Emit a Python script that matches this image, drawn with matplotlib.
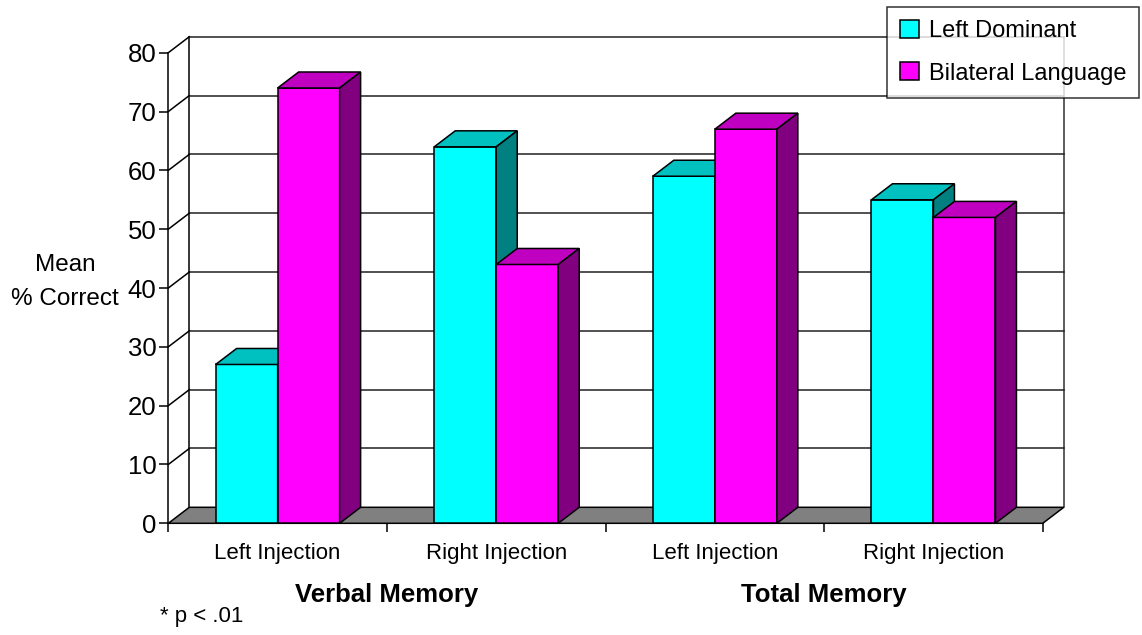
import matplotlib
matplotlib.use("Agg")
from matplotlib import pyplot as plt
from matplotlib.patches import Polygon, Rectangle, Patch

# valori medi (% corrette)
categorie = ["Left Injection", "Right Injection", "Left Injection", "Right Injection"]
gruppi = ["Verbal Memory", "Total Memory"]
serie = ["Left Dominant", "Bilateral Language"]
left_dominant = [27, 64, 59, 55]
bilateral = [74, 44, 67, 52]
yticks = [0, 10, 20, 30, 40, 50, 60, 70, 80]

font = ['Liberation Sans Narrow', 'Liberation Sans', 'DejaVu Sans']
plt.rcParams['font.family'] = font

# colori: fronte, sopra, lato
col_ld = ("#00FFFF", "#00C0C0", "#008080")
col_bl = ("#FF00FF", "#C000C0", "#800080")
grigio = "#808080"

W = 0.2836      # larghezza barra (unita' di categoria)
DX = 0.096      # profondita' 3D in x
DY = 2.72       # profondita' 3D in y
lw = 1.1

fig = plt.figure(figsize=(11.42, 6.35), dpi=100)
ax = fig.add_axes([0.1474, 0.1759, 0.7657, 0.7411])
ax.set_xlim(0, 4)
ax.set_ylim(0, 80)
for s in ("top", "right", "bottom"):
    ax.spines[s].set_visible(False)
ax.spines["left"].set_linewidth(lw)
ax.patch.set_visible(False)

# parete di fondo e griglia
ax.plot([DX, DX], [DY, 80 + DY], c='k', lw=lw, clip_on=False, zorder=1)
ax.plot([4 + DX, 4 + DX], [DY, 80 + DY], c='#303030', lw=lw, clip_on=False, zorder=1)
for v in yticks[1:]:
    ax.plot([DX, 4 + DX], [v + DY, v + DY], c='#202020', lw=lw, clip_on=False, zorder=1)
    ax.plot([0, DX], [v, v + DY], c='k', lw=lw, clip_on=False, zorder=1)

# pavimento
ax.add_patch(Polygon([(0, 0), (4, 0), (4 + DX, DY), (DX, DY)], closed=True,
    fc=grigio, ec='k', lw=lw, clip_on=False, zorder=2))


def barra(x0, v, col, z):
    x1 = x0 + W
    ax.add_patch(Rectangle((x0, 0), W, v, fc=col[0], ec='k', lw=lw,
        clip_on=False, zorder=z))
    ax.add_patch(Polygon([(x0, v), (x1, v), (x1 + DX, v + DY), (x0 + DX, v + DY)],
        closed=True, fc=col[1], ec='k', lw=lw, clip_on=False, zorder=z))
    ax.add_patch(Polygon([(x1, 0), (x1 + DX, DY), (x1 + DX, v + DY), (x1, v)],
        closed=True, fc=col[2], ec='k', lw=lw, clip_on=False, zorder=z))


z = 3
for i in range(4):
    barra(i + 0.5 - W, left_dominant[i], col_ld, z)
    barra(i + 0.5, bilateral[i], col_bl, z + 1)
    z += 2

# assi
ax.set_yticks(yticks)
ax.set_yticklabels([str(v) for v in yticks], fontsize=18.5)
ax.set_xticks([0, 1, 2, 3, 4])
ax.set_xticklabels([])
ax.tick_params(axis='both', direction='out', length=6.5, width=lw, pad=3)
ax.tick_params(axis='y', pad=2)

for i, c in enumerate(categorie):
    ax.text(i + 0.5, -5.1, c, ha='center', va='center', fontsize=16, clip_on=False)
for j, g in enumerate(gruppi):
    ax.text(1 + 2 * j, -12.2, g, ha='center', va='center', fontsize=18.5,
        fontweight='bold', clip_on=False)

ax.text(-0.4725, 41.0, "Mean\n% Correct", ha='center', va='center',
    fontsize=17.5, linespacing=1.7, clip_on=False)
ax.text(-0.038, -15.9, "* p < .01", ha='left', va='center', fontsize=16,
    clip_on=False)

# legenda
maniglie = [Patch(fc=col_ld[0], ec='k', lw=lw), Patch(fc=col_bl[0], ec='k', lw=lw)]
leg = fig.legend(maniglie, serie, loc='upper right',
    bbox_to_anchor=(1139 / 1142, 1 - 7 / 635), fontsize=17, frameon=True,
    fancybox=False, shadow=False, handlelength=0.8, handleheight=0.8,
    handletextpad=0.4, borderpad=0.55, labelspacing=0.85, borderaxespad=0)
leg.get_frame().set_edgecolor('k')
leg.get_frame().set_linewidth(lw)
leg.set_zorder(20)

fig.savefig("out.png", dpi=100)
